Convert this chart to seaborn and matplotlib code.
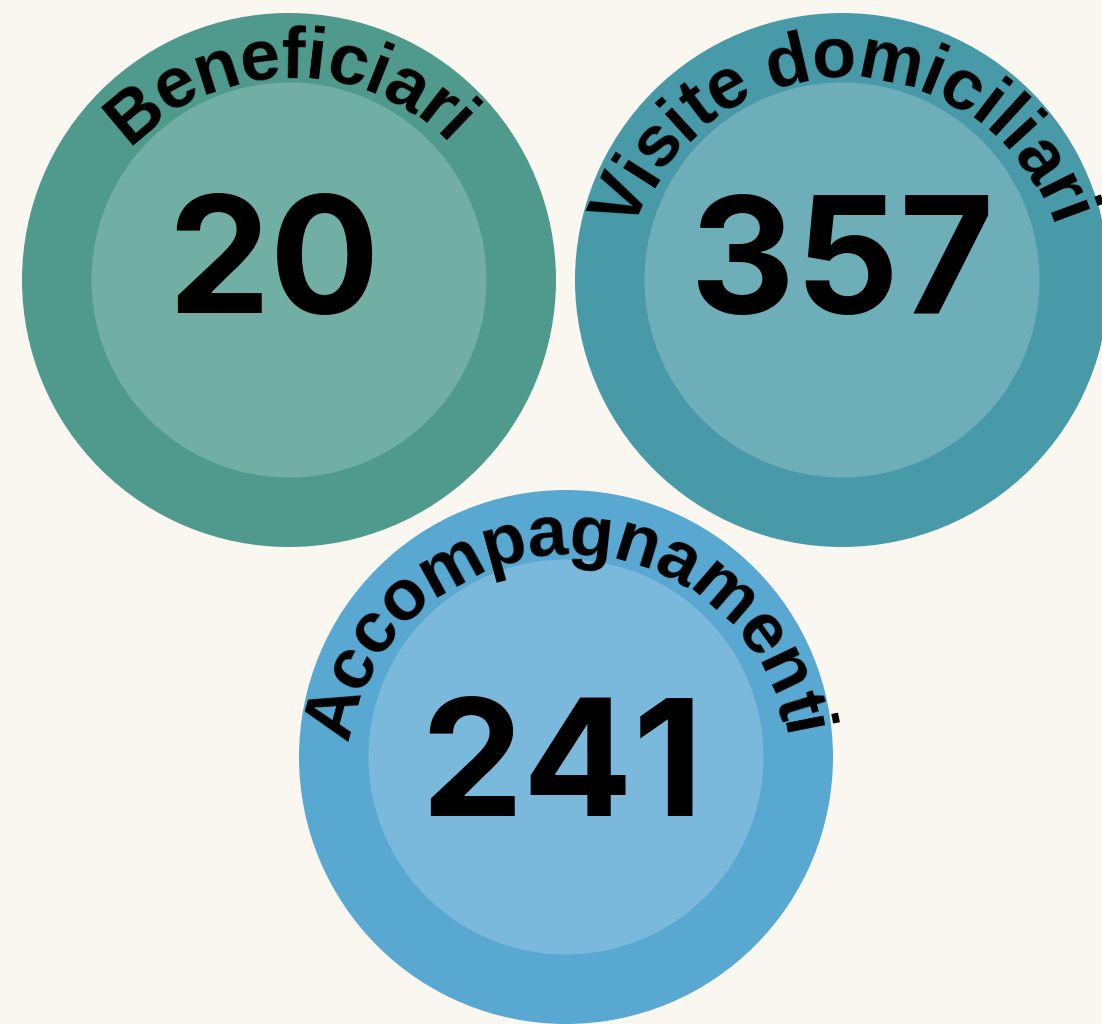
import numpy as np
import matplotlib
matplotlib.use("Agg")
import matplotlib.pyplot as plt
from matplotlib.patches import Circle
from matplotlib.font_manager import FontProperties, findfont, get_font
import seaborn as sns

# dati
labels = ["Beneficiari", "Visite domiciliari", "Accompagnamenti"]
values = [20, 357, 241]
outer_colors = ["#4F9A8D", "#499AA8", "#58A8D1"]
inner_colors = ["#71AFA4", "#6DAEB9", "#7AB9DB"]

# layout (pixel)
centers = [(289, 280), (842, 280), (566, 757)]
num_offsets = [(-15, 33), (0, 33), (-4, 59)]
R_OUT, R_IN = 267, 197.5
R_BASE, R_ADV, ARC_DY = 220, 227, 18   # arco del testo: centro spostato in basso
LABEL_PX, NUM_PX = 72, 163
BG = "#FAF7F0"
PT = 72 / 100  # px -> pt a 100 dpi

sns.set_theme(style="white")
plt.rcParams["font.family"] = ["Liberation Sans", "DejaVu Sans"]

fp = FontProperties(family="Liberation Sans", weight="bold")
ft = get_font(findfont(fp))


def arc_text(ax, s, cx, cy, size_px):
    # testo curvo lungo l'arco superiore
    ft.set_size(size_px, 72)
    widths = [ft.load_char(ord(ch)).linearHoriAdvance / 65536 for ch in s]
    pos = -sum(widths) / 2
    oy = cy + ARC_DY
    for ch, w in zip(s, widths):
        th = (pos + w / 2) / R_ADV
        x = cx + R_BASE * np.sin(th)
        y = oy - R_BASE * np.cos(th)
        ax.text(x, y, ch, fontsize=size_px * PT, fontweight="bold", color="black",
                rotation=-np.degrees(th), rotation_mode="anchor",
                ha="center", va="baseline")
        pos += w


fig = plt.figure(figsize=(11.02, 10.24), dpi=100, facecolor=BG)
ax = fig.add_axes([0, 0, 1, 1])
ax.set_facecolor(BG)
ax.set_xlim(0, 1102)
ax.set_ylim(1024, 0)
ax.set_aspect("equal")
ax.axis("off")

for lab, val, oc, ic, (cx, cy), (dx, dy) in zip(labels, values, outer_colors,
                                                inner_colors, centers, num_offsets):
    ax.add_patch(Circle((cx, cy), R_OUT, color=oc, lw=0))
    ax.add_patch(Circle((cx, cy), R_IN, color=ic, lw=0))
    ax.text(cx + dx, cy + dy, str(val), fontsize=NUM_PX * PT, fontweight="bold",
            family=["Inter", "Liberation Sans"], color="black",
            ha="center", va="baseline")
    arc_text(ax, lab, cx, cy, LABEL_PX)

fig.savefig("out.png", dpi=100, facecolor=BG)
